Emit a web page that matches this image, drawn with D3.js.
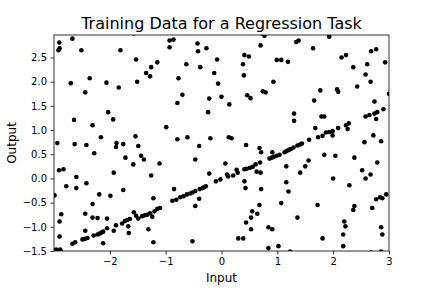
<!DOCTYPE html>
<html>
<head>
<meta charset="utf-8">
<style>
  body { margin: 0; background: #fff; }
  text { font-family: "DejaVu Sans", sans-serif; fill: #000; }
  .tick text { font-size: 10px; }
  .tick line { stroke: #000; stroke-width: 0.8px; }
  .frame { fill: none; stroke: #000; stroke-width: 0.8px; }
</style>
</head>
<body>
<svg width="432" height="288"></svg>
<script src="https://d3js.org/d3.v7.min.js"></script>
<script>
// points that follow the trend
const trendInputs = [-2.67, -2.62, -2.49, -2.45, -2.40, -2.29, -2.22, -2.18, -2.15, -2.12, -1.93, -1.78, -1.73, -1.69, -1.64, -1.67,
  -1.57, -1.53, -1.49, -1.42, -1.37, -1.33, -1.28, -1.20, -1.15, -1.10,
  -0.88, -0.81, -0.74, -0.68, -0.62, -0.56, -0.52, -0.47, -0.39, -0.34, -0.31, -0.28, -0.10, -0.02,
  0.10, 0.12, 0.21, 0.27, 0.29, 0.41, 0.45, 0.51, 0.56, 0.61, 0.69,
  0.86, 0.90, 0.94, 0.99, 1.04, 1.13, 1.17, 1.21, 1.24, 1.29, 1.36, 1.41, 1.44, 1.57,
  1.73, 1.81, 1.87, 1.93, 1.99, 2.09, 2.23, 2.28, 2.58, 2.65, 2.74, 2.79];
const trendOutputs = [-1.35, -1.32, -1.26, -1.25, -1.23, -1.18, -1.16, -1.14, -1.12, -1.10, -1.08, -0.93, -0.88, -0.86, -0.84, -0.99,
  -0.70, -0.77, -0.83, -0.78, -0.76, -0.75, -0.72, -0.68, -0.63, -0.61,
  -0.46, -0.44, -0.39, -0.37, -0.33, -0.31, -0.29, -0.26, -0.22, -0.20, -0.18, -0.16, -0.06, -0.02,
  0.08, 0.04, 0.06, 0.18, 0.12, 0.19, 0.20, 0.22, 0.24, 0.29, 0.33,
  0.41, 0.43, 0.45, 0.47, 0.49, 0.54, 0.57, 0.59, 0.61, 0.64, 0.68, 0.70, 0.72, 0.80,
  0.85, 0.88, 0.95, 0.96, 0.98, 1.04, 1.10, 1.14, 1.28, 1.31, 1.34, 1.37];

// scattered points
const scatterInputs = [
  -2.905, -2.92, -2.90, -2.67, -2.51, -1.81, -1.53, -2.70, -2.36, -2.06, -1.84, -1.51, -2.44, -2.03, -1.94, -2.64, -2.31, -2.16, -1.54, -2.94, -2.63, -2.42, -1.88, -1.76, -1.57,
  -0.93, -0.86, -0.93, -0.43, -0.42, -0.27, -1.15, -1.26, -1.35, -1.28, -0.63, -0.38, -0.08, -0.13, -0.06, 0.00, -0.77, -0.70, -0.79, -0.22, -0.24, -0.99, -0.79, -0.61, -0.20,
  0.72, 0.77, 0.70, 1.34, 1.38, 0.41, 0.49, 0.385, 0.40, 0.99, 1.07, 1.19, 0.93, 0.14, 0.46, 0.52, 0.74, 0.79, 1.30, 1.30, 0.13, 0.18,
  1.93, 1.64, 2.68, 2.77, 2.15, 2.23, 2.93, 2.36, 2.61, 2.58, 2.67, 2.43, 1.77, 2.07, 2.09, 3.00, 1.66, 2.74, 2.90, 1.79, 1.84, 2.77, 2.26, 1.68, 1.99, 2.56, 2.72, 2.86,
  -1.89, -2.28, -1.72, -1.58, -2.91, -2.83, -1.93, -2.60, -2.78, -2.60, -2.42, -1.76, -2.99, -2.19, -1.99, -2.31, -2.87, -2.44, -2.31, -2.22, -2.05, -2.90, -1.89, -1.66, -2.05, -2.44, -2.90, -2.12, -2.96, -2.89, -2.87, -2.94,
  -1.49, -1.44, -1.39, -1.11, -1.26, -0.40, -0.47, -0.22, -0.85, -1.22, -1.24, -0.47, -0.40, -1.31, -1.22, -0.52,
  0.44, 0.68, 0.71, 0.91, 0.07, 0.63, 0.70, 0.41, 0.43, 0.71, 1.16, 1.16, 1.20, 1.41, 1.50, 1.56, 1.07, 0.68, 0.55, 0.64, 0.53, 0.44, 0.53, 1.36, 0.84, 0.91, 0.30, 0.39, 0.84, 1.02, 1.23,
  1.84, 2.04, 2.38, 2.00, 2.29, 2.52, 2.58, 2.67, 2.79, 1.72, 2.38, 2.36, 2.70, 2.77, 2.84, 2.88, 2.95, 2.20, 2.22, 2.18, 2.18, 1.81, 2.86, 2.88, 2.68, 2.86];
const scatterOutputs = [
  2.81, 2.65, 2.69, 2.89, 2.65, 2.65, 2.46, 1.97, 2.07, 1.98, 1.88, 2.00, 1.78, 1.37, 1.22, 1.21, 1.10, 0.85, 0.87, 0.73, 0.71, 0.69, 0.73, 0.71, 3.00,
  2.85, 2.87, 2.71, 2.79, 2.63, 2.69, 2.40, 2.30, 2.18, 2.11, 2.36, 2.30, 2.46, 2.18, 1.96, 1.69, 2.07, 1.73, 1.56, 1.65, 1.37, 1.06, 0.81, 0.85, 0.83,
  3.00, 2.95, 2.75, 2.82, 2.85, 2.55, 2.52, 2.36, 2.13, 2.45, 2.45, 2.41, 2.00, 1.53, 1.72, 1.66, 1.80, 1.78, 1.34, 1.19, 0.85, 0.83,
  2.93, 2.69, 2.63, 2.67, 2.50, 2.55, 2.40, 2.30, 2.36, 2.15, 2.00, 1.90, 1.82, 1.84, 1.79, 1.75, 1.61, 1.59, 1.43, 1.28, 1.28, 1.23, 1.02, 1.04, 0.89, 0.75, 0.89, 0.77,
  0.65, 0.52, 0.43, 0.29, 0.17, 0.19, 0.12, 0.03, -0.16, -0.20, -0.10, -0.24, -0.35, -0.33, -0.36, -0.53, -0.74, -0.73, -0.81, -0.82, -0.83, -0.89, -0.97, -1.13, -1.03, -1.08, -1.20, -1.34, -1.47, -1.47, -1.51, -1.50,
  0.67, 0.47, 0.39, 0.31, 0.06, 0.67, 0.39, 0.10, -0.22, -0.41, -0.79, -0.57, -0.42, -1.05, -1.32, -1.30,
  0.69, 0.63, 0.54, 0.54, 0.31, 0.14, 0.12, -0.06, -0.20, -0.22, 0.25, -0.08, -0.27, 0.12, 0.25, 0.37, -0.51, -0.55, -0.68, -0.73, -0.81, -0.91, -1.05, -0.81, -1.01, -1.05, -1.24, -1.24, -1.44, -1.40, -1.51,
  0.49, 0.47, 0.43, 0.00, -0.14, 0.17, 0.00, 0.08, 0.33, -0.55, -0.57, -0.65, -0.61, -0.43, -0.39, -0.41, -0.33, -0.89, -0.99, -1.16, -1.40, -1.24, -1.01, -1.16, -1.53, -1.51];

const xTicks = [-2, -1, 0, 1, 2, 3];
const yTicks = [-1.5, -1.0, -0.5, 0.0, 0.5, 1.0, 1.5, 2.0, 2.5];

const svg = d3.select("svg");
const plotLeft = 54, plotRight = 389, plotTop = 35, plotBottom = 251;

const x = d3.scaleLinear().domain([-3, 3]).range([plotLeft, plotRight]);
const y = d3.scaleLinear().domain([-1.5, 2.965]).range([plotBottom, plotTop]);

svg.append("clipPath").attr("id", "plot")
  .append("rect").attr("x", plotLeft).attr("y", plotTop)
  .attr("width", plotRight - plotLeft).attr("height", plotBottom - plotTop);

const points = trendInputs.map((v, i) => [v, trendOutputs[i]])
  .concat(scatterInputs.map((v, i) => [v, scatterOutputs[i]]));

svg.append("g").attr("clip-path", "url(#plot)")
  .selectAll("circle").data(points).join("circle")
  .attr("cx", d => x(d[0]))
  .attr("cy", d => y(d[1]))
  .attr("r", 2.3)
  .attr("fill", "#000");

const xAxis = svg.append("g").attr("transform", `translate(0,${plotBottom})`)
  .call(d3.axisBottom(x).tickValues(xTicks).tickSize(3.5).tickPadding(3.5).tickFormat(d3.format("d")));
const yAxis = svg.append("g").attr("transform", `translate(${plotLeft},0)`)
  .call(d3.axisLeft(y).tickValues(yTicks).tickSize(3.5).tickPadding(3.5).tickFormat(d3.format(".1f")));
[xAxis, yAxis].forEach(g => {
  g.select(".domain").remove();
  g.attr("font-family", null).attr("font-size", null);
});

svg.append("rect").attr("class", "frame")
  .attr("x", plotLeft).attr("y", plotTop)
  .attr("width", plotRight - plotLeft).attr("height", plotBottom - plotTop);

svg.append("text").attr("x", (plotLeft + plotRight) / 2).attr("y", 29)
  .attr("text-anchor", "middle").style("font-size", "16px")
  .text("Training Data for a Regression Task");

svg.append("text").attr("x", (plotLeft + plotRight) / 2).attr("y", 282)
  .attr("text-anchor", "middle").style("font-size", "12px")
  .text("Input");

svg.append("text").attr("transform", `translate(16,${(plotTop + plotBottom) / 2}) rotate(-90)`)
  .attr("text-anchor", "middle").style("font-size", "12px")
  .text("Output");
</script>
</body>
</html>
